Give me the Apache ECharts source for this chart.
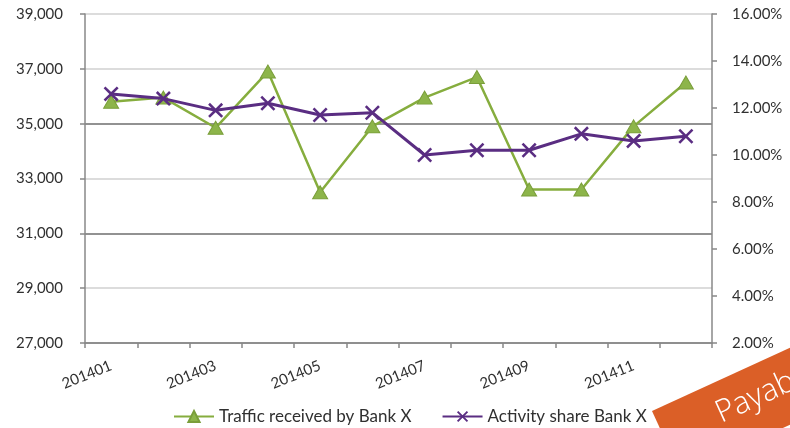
<!DOCTYPE html>
<html>
<head>
<meta charset="utf-8">
<script src="https://cdn.jsdelivr.net/npm/echarts@6/dist/echarts.min.js"></script>
<style>
html,body{margin:0;padding:0;background:#fff;}
#chart{width:790px;height:428px;}
</style>
</head>
<body>
<div id="chart"></div>
<script>
const categories = ['201401','201402','201403','201404','201405','201406','201407','201408','201409','201410','201411','201412'];
const trafficValues = [35800, 35950, 34850, 36900, 32500, 34900, 35950, 36700, 32600, 32600, 34900, 36500];
const shareValues = [12.6, 12.4, 11.9, 12.2, 11.7, 11.8, 10.0, 10.2, 10.2, 10.9, 10.6, 10.8];
const seriesNames = ['Traffic received by Bank X', 'Activity share Bank X'];

const FONT = 'Lato';
const xPath = 'path://M0,1.2L1.2,0L5,3.8L8.8,0L10,1.2L6.2,5L10,8.8L8.8,10L5,6.2L1.2,10L0,8.8L3.8,5Z';

const chart = echarts.init(document.getElementById('chart'), null, {renderer:'canvas'});
chart.setOption({
  animation:false,
  backgroundColor:'#fff',
  textStyle:{fontFamily:FONT},
  grid:{left:85,right:78,top:14,bottom:85,containLabel:false},
  legend:{
    top:406,left:168,itemWidth:40,itemHeight:14,itemGap:30,padding:[2,5,2,5],
    textStyle:{fontFamily:FONT,fontSize:17,color:'#303030'},
    data:seriesNames
  },
  xAxis:{
    type:'category',data:categories,boundaryGap:true,
    axisLine:{lineStyle:{color:'#888',width:1.5}},
    axisTick:{show:true,interval:0,length:5,lineStyle:{color:'#888',width:1.5}},
    axisLabel:{interval:1,rotate:22,margin:22,color:'#303030',fontSize:15,fontFamily:FONT},
    splitLine:{show:false}
  },
  yAxis:[{
    type:'value',min:27000,max:39000,interval:2000,
    axisLine:{show:true,lineStyle:{color:'#888',width:1.5}},
    axisTick:{show:true,length:5,lineStyle:{color:'#888',width:1.5}},
    axisLabel:{margin:22,color:'#303030',fontSize:15,fontFamily:FONT,
      formatter:v=>v.toLocaleString('en-US')},
    splitLine:{show:true,lineStyle:{width:1.5,color:['#888','#d0d0d0','#6e6e6e','#d0d0d0','#6e6e6e','#d0d0d0','#d0d0d0']}}
  },{
    type:'value',min:2,max:16,interval:2,position:'right',
    axisLine:{show:true,lineStyle:{color:'#888',width:1.5}},
    axisTick:{show:true,length:5,lineStyle:{color:'#888',width:1.5}},
    axisLabel:{margin:20,color:'#303030',fontSize:15,fontFamily:FONT,
      formatter:v=>v.toFixed(2)+'%'},
    splitLine:{show:false}
  }],
  series:[{
    name:seriesNames[0],type:'line',yAxisIndex:0,data:trafficValues,
    symbol:'triangle',symbolSize:[15,13],
    lineStyle:{color:'#86ad3e',width:2.5},
    itemStyle:{color:'#8db54a',borderColor:'#7a9e3a',borderWidth:1},
    z:2
  },{
    name:seriesNames[1],type:'line',yAxisIndex:1,data:shareValues,
    symbol:xPath,symbolSize:15,
    lineStyle:{color:'#5a2d82',width:3},
    itemStyle:{color:'#5a2d82'},
    z:3
  }],
  graphic:[{
    type:'group',x:652,y:411,rotation:0.43,silent:true,z:100,
    children:[
      {type:'rect',shape:{x:0,y:0,width:260,height:70},style:{fill:'#db5f27'}},
      {type:'text',x:58,y:31,style:{text:'Payab',fill:'#fff',fontSize:31,fontFamily:'Open Sans',fontWeight:300,verticalAlign:'middle'}}
    ]
  }]
});
</script>
</body>
</html>
